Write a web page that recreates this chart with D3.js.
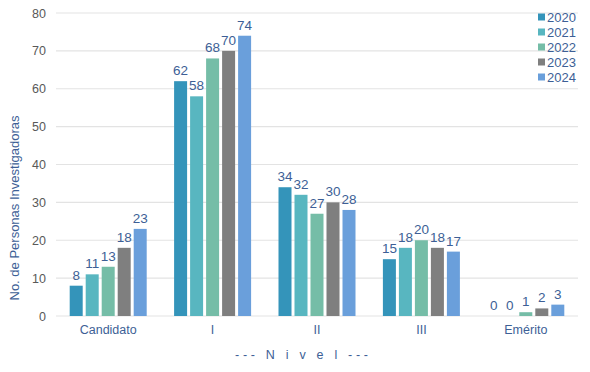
<!DOCTYPE html>
<html><head><meta charset="utf-8">
<script src="https://cdn.jsdelivr.net/npm/d3@7"></script>
<style>body{margin:0;background:#fff;}svg{display:block;font-family:"Liberation Sans",Arial,sans-serif;}</style>
</head><body><svg id="c" width="590" height="372"></svg>
<script>
const categories = ["Candidato", "I", "II", "III", "Emérito"];
const years = ["2020", "2021", "2022", "2023", "2024"];
const v2020 = [8, 62, 34, 15, 0];
const v2021 = [11, 58, 32, 18, 0];
const v2022 = [13, 68, 27, 20, 1];
const v2023 = [18, 70, 30, 18, 2];
const v2024 = [23, 74, 28, 17, 3];
const yTicks = [0, 10, 20, 30, 40, 50, 60, 70, 80];
const colors = ["#3494ba", "#58b6c0", "#75bda7", "#7f7f7f", "#6a9fdb"];
const series = [v2020, v2021, v2022, v2023, v2024];

const svg = d3.select("#c");
const pL = 56, pR = 578, pT = 13, pB = 316;
const x = d3.scaleBand().domain(categories).range([pL, pR]).paddingInner(0).paddingOuter(0);
const y = d3.scaleLinear().domain([0, 80]).range([pB, pT]);
const groupW = 77;
const xs = d3.scaleBand().domain(years).range([0, groupW]).paddingInner(3/16).paddingOuter(0);
const txtBlue = "#3d5f96";

// gridlines
svg.append("g").selectAll("line").data(yTicks).join("line")
  .attr("x1", pL).attr("x2", pR)
  .attr("y1", d => y(d)).attr("y2", d => y(d))
  .attr("stroke", "#e3e3e3").attr("stroke-width", 1.2);

// y axis labels
const yAxis = d3.axisLeft(y).tickValues(yTicks).tickSize(0).tickPadding(10);
const ya = svg.append("g").attr("transform", `translate(${pL},0)`).call(yAxis);
ya.select(".domain").remove();
ya.selectAll("text").attr("font-size", 12.5).attr("fill", "#595959")
  .attr("font-family", "Liberation Sans, Arial, sans-serif");

// x axis
const xAxis = d3.axisBottom(x).tickSize(0).tickPadding(9);
const xa = svg.append("g").attr("transform", `translate(0,${pB})`).call(xAxis);
xa.select(".domain").remove();
xa.selectAll("text").attr("font-size", 12.5).attr("fill", txtBlue)
  .attr("font-family", "Liberation Sans, Arial, sans-serif");

// bars
years.forEach((yr, i) => {
  const g = svg.append("g");
  const data = categories.map((c, j) => ({c, v: series[i][j]}));
  g.selectAll("rect").data(data).join("rect")
    .attr("x", d => x(d.c) + (x.bandwidth() - groupW) / 2 + xs(yr))
    .attr("width", xs.bandwidth())
    .attr("y", d => y(d.v))
    .attr("height", d => y(0) - y(d.v))
    .attr("fill", colors[i]);
  g.selectAll("text").data(data).join("text")
    .attr("x", d => x(d.c) + (x.bandwidth() - groupW) / 2 + xs(yr) + xs.bandwidth() / 2)
    .attr("y", d => y(d.v) - 6)
    .attr("text-anchor", "middle")
    .attr("font-size", 13.5).attr("fill", txtBlue)
    .text(d => d.v);
});

// axis titles
svg.append("text").attr("transform", `translate(19,208) rotate(-90)`)
  .attr("text-anchor", "middle").attr("font-size", 13).attr("fill", txtBlue)
  .text("No. de Personas Investigadoras");
svg.append("text").attr("x", 235).attr("y", 359)
  .attr("textLength", 133).attr("lengthAdjust", "spacing")
  .attr("font-size", 12.5).attr("fill", txtBlue)
  .text("---  N i v e l  ---");

// legend
const lg = svg.append("g");
years.forEach((yr, i) => {
  const yy = 17 + i * 15;
  lg.append("rect").attr("x", 538).attr("y", yy - 3.5).attr("width", 7).attr("height", 7).attr("fill", colors[i]);
  lg.append("text").attr("x", 547).attr("y", yy + 4.5).attr("font-size", 13).attr("fill", txtBlue).text(yr);
});
</script></body></html>
